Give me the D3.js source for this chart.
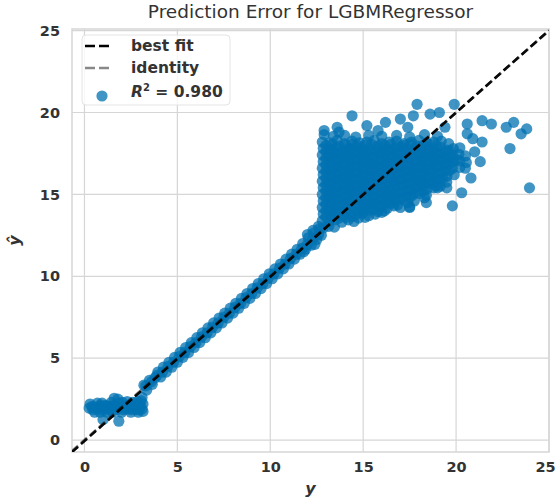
<!DOCTYPE html>
<html><head><meta charset="utf-8">
<script src="https://cdn.jsdelivr.net/npm/d3@7/dist/d3.min.js"></script>
<style>body{margin:0;background:#fff}svg{display:block}</style>
</head><body><svg id="c" width="556" height="503"></svg>
<script>
const titleText = "Prediction Error for LGBMRegressor";
const xTicks = [0, 5, 10, 15, 20, 25];
const yTicks = [0, 5, 10, 15, 20, 25];
const r2Value = "0.980";
const bestFit = {slope: 1.003, intercept: -0.06};

// [y, y_hat] pairs
const lowCluster = [
[0.25,1.95],[0.4,2.05],[0.45,1.85],[0.6,2.0],[0.7,1.9],[0.8,2.1],[0.9,1.85],[1.0,2.0],[1.1,1.9],[1.2,2.1],[1.3,1.85],[1.35,2.05],
[0.3,2.2],[0.55,1.7],[0.95,2.25],[1.2,1.7],[0.7,2.25],[0.85,1.7],[1.5,1.7],[2.0,1.7],[2.5,1.7],[2.9,1.7],
[1.45,2.3],[1.5,1.95],[1.6,2.55],[1.65,2.1],[1.75,1.85],[1.8,2.5],[1.85,2.25],[1.95,2.0],[2.05,2.3],[2.1,1.85],[2.2,2.1],[2.3,2.35],[2.35,1.9],[2.45,2.15],[2.55,1.85],[2.6,2.3],[2.7,2.05],[2.8,1.85],[2.85,2.35],
[2.95,1.85],[3.0,2.1],[3.05,2.4],[3.1,1.9],[3.1,2.6],[3.15,2.2],[3.15,1.75],
[0.5,2.0],[1.05,2.1],[1.55,2.05],[2.25,1.95],[2.75,2.2],
[1.0,1.25],[1.85,1.15]
];
const diagonalBand = [
[3.2,3.35],[3.35,3.05],[3.5,3.65],[3.65,3.4],[3.8,3.8],[3.95,4.15],[4.1,3.85],[4.25,4.45],[4.4,4.15],[4.55,4.75],[4.7,4.45],[4.85,5.05],[5.0,4.75],[5.15,5.35],[5.3,5.05],[5.45,5.65],[5.6,5.35],[5.75,5.95],[5.9,5.65],[6.05,6.25],[6.2,5.95],[6.35,6.55],[6.5,6.25],[6.65,6.85],[6.8,6.55],[6.95,7.15],[7.1,6.85],[7.25,7.45],[7.4,7.15],[7.55,7.75],[7.7,7.45],[7.85,8.05],[8.0,7.75],[8.15,8.35],[8.3,8.05],[8.45,8.65],[8.6,8.35],[8.75,8.95],[8.9,8.65],[9.05,9.25],[9.2,8.95],[9.35,9.55],[9.5,9.25],[9.65,9.85],[9.8,9.55],[9.95,10.15],[10.1,9.85],[10.25,10.45],[10.4,10.15],[10.55,10.75],[10.7,10.45],[10.85,11.05],[11.0,10.75],[11.15,11.35],[11.3,11.05],[11.45,11.65],[11.6,11.35],[11.75,12.0],[11.9,11.65],[12.05,12.35],[12.2,11.9],[12.35,12.65],[12.5,12.25],[12.65,12.9],[12.75,12.5],
[12.0,12.55],[12.4,11.95],[12.6,13.05],[11.8,11.5],[12.3,12.8]
];
const diagonalCore = [
[3.3,3.3],[3.6,3.55],[3.9,3.95],[4.2,4.15],[4.5,4.5],[4.8,4.75],[5.1,5.1],[5.4,5.35],[5.7,5.7],[6.0,5.95],[6.3,6.3],[6.6,6.55],[6.9,6.9],[7.2,7.15],[7.5,7.5],[7.8,7.75],[8.1,8.1],[8.4,8.35],[8.7,8.7],[9.0,8.95],[9.3,9.3],[9.6,9.55],[9.9,9.9],[10.2,10.15],[10.5,10.5],[10.8,10.75],[11.1,11.1],[11.4,11.35],[11.7,11.7],[12.0,11.95],[12.3,12.3],[12.6,12.55]
];
const highCluster = [
[12.85,12.95],[13.15,13.05],[13.45,13.0],
[12.8,13.4],[13.15,13.35],[13.5,13.45],[13.85,13.3],[14.2,13.45],[14.5,13.35],
[12.85,13.8],[13.2,13.75],[13.55,13.85],[13.9,13.7],[14.25,13.8],[14.6,13.75],[14.95,13.85],[15.3,13.7],[15.65,13.8],[16.0,13.9],
[12.8,14.2],[13.15,14.15],[13.5,14.25],[13.85,14.1],[14.2,14.2],[14.55,14.3],[14.9,14.15],[15.25,14.2],[15.6,14.1],[15.95,14.25],[16.3,14.15],[16.65,14.3],[17.0,14.2],[17.5,14.25],
[12.85,14.6],[13.2,14.55],[13.55,14.65],[13.9,14.5],[14.25,14.6],[14.6,14.7],[14.95,14.55],[15.3,14.6],[15.65,14.5],[16.0,14.65],[16.35,14.55],[16.7,14.6],[17.05,14.7],[17.4,14.5],[17.75,14.6],
[12.8,15.0],[13.15,14.95],[13.5,15.05],[13.85,14.9],[14.2,15.0],[14.55,15.1],[14.9,14.95],[15.25,15.0],[15.6,14.9],[15.95,15.05],[16.3,14.95],[16.65,15.0],[17.0,15.1],[17.35,14.9],[17.7,15.0],[18.05,15.05],[18.4,14.95],
[12.85,15.4],[13.2,15.35],[13.55,15.45],[13.9,15.3],[14.25,15.4],[14.6,15.5],[14.95,15.35],[15.3,15.4],[15.65,15.3],[16.0,15.45],[16.35,15.35],[16.7,15.4],[17.05,15.5],[17.4,15.3],[17.75,15.4],[18.1,15.45],[18.45,15.35],[18.8,15.4],[19.15,15.5],
[12.8,15.8],[13.15,15.75],[13.5,15.85],[13.85,15.7],[14.2,15.8],[14.55,15.9],[14.9,15.75],[15.25,15.8],[15.6,15.7],[15.95,15.85],[16.3,15.75],[16.65,15.8],[17.0,15.9],[17.35,15.7],[17.7,15.8],[18.05,15.85],[18.4,15.75],[18.75,15.8],[19.1,15.9],[19.5,15.75],
[12.85,16.2],[13.2,16.15],[13.55,16.25],[13.9,16.1],[14.25,16.2],[14.6,16.3],[14.95,16.15],[15.3,16.2],[15.65,16.1],[16.0,16.25],[16.35,16.15],[16.7,16.2],[17.05,16.3],[17.4,16.1],[17.75,16.2],[18.1,16.25],[18.45,16.15],[18.8,16.2],[19.15,16.3],[19.5,16.1],[19.9,16.2],
[12.8,16.6],[13.15,16.55],[13.5,16.65],[13.85,16.5],[14.2,16.6],[14.55,16.7],[14.9,16.55],[15.25,16.6],[15.6,16.5],[15.95,16.65],[16.3,16.55],[16.65,16.6],[17.0,16.7],[17.35,16.5],[17.7,16.6],[18.05,16.65],[18.4,16.55],[18.75,16.6],[19.1,16.7],[19.45,16.5],[19.8,16.6],[20.2,16.65],
[12.85,17.0],[13.2,16.95],[13.55,17.05],[13.9,16.9],[14.25,17.0],[14.6,17.1],[14.95,16.95],[15.3,17.0],[15.65,16.9],[16.0,17.05],[16.35,16.95],[16.7,17.0],[17.05,17.1],[17.4,16.9],[17.75,17.0],[18.1,17.05],[18.45,16.95],[18.8,17.0],[19.15,17.1],[19.5,16.9],[19.85,17.0],[20.2,17.05],[20.55,16.95],
[12.8,17.4],[13.15,17.35],[13.5,17.45],[13.85,17.3],[14.2,17.4],[14.55,17.5],[14.9,17.35],[15.25,17.4],[15.6,17.3],[15.95,17.45],[16.3,17.35],[16.65,17.4],[17.0,17.5],[17.35,17.3],[17.7,17.4],[18.05,17.45],[18.4,17.35],[18.75,17.4],[19.1,17.5],[19.45,17.3],[19.8,17.4],[20.15,17.45],[20.5,17.35],
[12.85,17.8],[13.2,17.75],[13.55,17.85],[13.9,17.7],[14.25,17.8],[14.6,17.9],[14.95,17.75],[15.3,17.8],[15.65,17.7],[16.0,17.85],[16.35,17.75],[16.7,17.8],[17.05,17.9],[17.4,17.7],[17.75,17.8],[18.1,17.85],[18.45,17.75],[18.8,17.8],[19.15,17.9],[19.5,17.7],[19.85,17.8],[20.2,17.85],
[12.8,18.2],[13.2,18.15],[13.6,18.3],[14.0,18.1],[14.4,18.25],[14.8,18.15],[15.2,18.2],[15.6,18.3],[16.0,18.1],[16.4,18.2],[16.8,18.25],[17.2,18.1],[17.6,18.2],[18.0,18.3],[18.4,18.15],[18.8,18.2],[19.2,18.25],[19.6,18.1],
[12.9,18.65],[13.4,18.55],[14.0,18.6],[14.6,18.5],[15.3,18.6],[16.0,18.55],[16.8,18.6],[17.5,18.5],[18.3,18.65],[19.0,18.55]
];
const highClusterCore = [
[13.0,13.6],[13.35,13.65],[13.7,13.55],[14.05,13.6],[14.4,13.65],[14.75,13.55],[15.1,13.6],
[13.0,14.0],[13.35,14.05],[13.7,13.95],[14.05,14.0],[14.4,14.05],[14.75,13.95],[15.1,14.0],[15.45,14.05],[15.8,13.95],[16.15,14.0],
[13.0,14.4],[13.35,14.45],[13.7,14.35],[14.05,14.4],[14.4,14.45],[14.75,14.35],[15.1,14.4],[15.45,14.45],[15.8,14.35],[16.15,14.4],[16.5,14.45],[16.85,14.35],
[13.0,14.8],[13.35,14.85],[13.7,14.75],[14.05,14.8],[14.4,14.85],[14.75,14.75],[15.1,14.8],[15.45,14.85],[15.8,14.75],[16.15,14.8],[16.5,14.85],[16.85,14.75],[17.2,14.8],[17.55,14.85],
[13.0,15.2],[13.35,15.25],[13.7,15.15],[14.05,15.2],[14.4,15.25],[14.75,15.15],[15.1,15.2],[15.45,15.25],[15.8,15.15],[16.15,15.2],[16.5,15.25],[16.85,15.15],[17.2,15.2],[17.55,15.25],[17.9,15.15],[18.25,15.2],
[13.0,15.6],[13.35,15.65],[13.7,15.55],[14.05,15.6],[14.4,15.65],[14.75,15.55],[15.1,15.6],[15.45,15.65],[15.8,15.55],[16.15,15.6],[16.5,15.65],[16.85,15.55],[17.2,15.6],[17.55,15.65],[17.9,15.55],[18.25,15.6],[18.6,15.65],[18.95,15.55],
[13.0,16.0],[13.35,16.05],[13.7,15.95],[14.05,16.0],[14.4,16.05],[14.75,15.95],[15.1,16.0],[15.45,16.05],[15.8,15.95],[16.15,16.0],[16.5,16.05],[16.85,15.95],[17.2,16.0],[17.55,16.05],[17.9,15.95],[18.25,16.0],[18.6,16.05],[18.95,15.95],[19.3,16.0],
[13.0,16.4],[13.35,16.45],[13.7,16.35],[14.05,16.4],[14.4,16.45],[14.75,16.35],[15.1,16.4],[15.45,16.45],[15.8,16.35],[16.15,16.4],[16.5,16.45],[16.85,16.35],[17.2,16.4],[17.55,16.45],[17.9,16.35],[18.25,16.4],[18.6,16.45],[18.95,16.35],[19.3,16.4],[19.65,16.45],
[13.0,16.8],[13.35,16.85],[13.7,16.75],[14.05,16.8],[14.4,16.85],[14.75,16.75],[15.1,16.8],[15.45,16.85],[15.8,16.75],[16.15,16.8],[16.5,16.85],[16.85,16.75],[17.2,16.8],[17.55,16.85],[17.9,16.75],[18.25,16.8],[18.6,16.85],[18.95,16.75],[19.3,16.8],[19.65,16.85],
[13.0,17.2],[13.35,17.25],[13.7,17.15],[14.05,17.2],[14.4,17.25],[14.75,17.15],[15.1,17.2],[15.45,17.25],[15.8,17.15],[16.15,17.2],[16.5,17.25],[16.85,17.15],[17.2,17.2],[17.55,17.25],[17.9,17.15],[18.25,17.2],[18.6,17.25],[18.95,17.15],[19.3,17.2],[19.65,17.25],[20.0,17.15],
[13.0,17.6],[13.35,17.65],[13.7,17.55],[14.05,17.6],[14.4,17.65],[14.75,17.55],[15.1,17.6],[15.45,17.65],[15.8,17.55],[16.15,17.6],[16.5,17.65],[16.85,17.55],[17.2,17.6],[17.55,17.65],[17.9,17.55],[18.25,17.6],[18.6,17.65],[18.95,17.55],[19.3,17.6],[19.65,17.65],
[13.0,18.0],[13.35,18.05],[13.7,17.95],[14.05,18.0],[14.4,18.05],[14.75,17.95],[15.1,18.0],[15.45,18.05],[15.8,17.95],[16.15,18.0],[16.5,18.05],[16.85,17.95],[17.2,18.0],[17.55,18.05],[17.9,17.95],[18.25,18.0],[18.6,18.05],[18.95,17.95]
];
const outliers = [
[14.4,19.8],[12.9,18.9],[13.6,19.1],[13.7,18.8],[16.2,19.4],[17.0,19.6],[17.7,19.8],[17.9,20.5],[18.6,19.9],[19.1,20.0],[19.4,19.1],[19.9,20.5],[20.6,19.3],[20.6,18.7],[21.4,19.5],[21.9,19.3],[22.7,19.1],[23.1,19.4],[23.8,19.0],[23.5,18.7],[22.9,17.8],[23.95,15.4],[21.4,18.2],[21.3,17.0],[20.8,16.0],[20.5,16.6],[20.3,15.1],[19.8,14.3],[19.5,15.4],[19.0,15.4],[18.3,14.8],[18.4,14.5],[17.5,14.2],[21.0,17.6],[20.9,18.4],[15.2,19.2],[15.8,18.9],[17.4,19.1]
];

const svg = d3.select("#c");
const L = 72, R = 549, T = 29, B = 452;
const x = d3.scaleLinear().domain([-0.67, 25]).range([L, R]);
const y = d3.scaleLinear().domain([-0.73, 25.1]).range([B, T]);
const gridColor = "#d6d6d6";
const textColor = "#333333";
const font = "'DejaVu Sans', sans-serif";

// grid
svg.append("g").selectAll("line").data(xTicks).join("line")
  .attr("x1", d => x(d)).attr("x2", d => x(d)).attr("y1", T).attr("y2", B)
  .attr("stroke", gridColor).attr("stroke-width", 1.2);
svg.append("g").selectAll("line").data(yTicks).join("line")
  .attr("y1", d => y(d)).attr("y2", d => y(d)).attr("x1", L).attr("x2", R)
  .attr("stroke", gridColor).attr("stroke-width", 1.2);

// axes (labels only)
const xAxis = svg.append("g").attr("transform", `translate(0,${B})`)
  .call(d3.axisBottom(x).tickValues(xTicks).tickSize(0).tickPadding(10));
const yAxis = svg.append("g").attr("transform", `translate(${L},0)`)
  .call(d3.axisLeft(y).tickValues(yTicks).tickSize(0).tickPadding(12));
[xAxis, yAxis].forEach(g => {
  g.select(".domain").remove();
  g.selectAll("text").attr("font-family", font).attr("font-weight", "bold")
    .attr("font-size", 14.5).attr("fill", textColor);
});
xAxis.selectAll("text").filter(d => d === 25).attr("dx", -4);

// frame
svg.append("rect").attr("x", L).attr("y", T).attr("width", R - L).attr("height", B - T)
  .attr("fill", "none").attr("stroke", gridColor).attr("stroke-width", 1.5);

// points
const pts = lowCluster.concat(diagonalBand, diagonalCore, highCluster, highClusterCore, outliers);
const clipId = "plotclip";
svg.append("clipPath").attr("id", clipId).append("rect")
  .attr("x", L).attr("y", T).attr("width", R - L).attr("height", B - T);
const plot = svg.append("g").attr("clip-path", `url(#${clipId})`);
plot.append("g").selectAll("circle").data(pts).join("circle")
  .attr("cx", d => x(d[0])).attr("cy", d => y(d[1])).attr("r", 5.6)
  .attr("fill", "#0072B2").attr("fill-opacity", 0.75);

// best fit and identity
const xd = x.domain();
plot.append("line")
  .attr("x1", x(xd[0])).attr("y1", y(bestFit.slope * xd[0] + bestFit.intercept))
  .attr("x2", x(xd[1])).attr("y2", y(bestFit.slope * xd[1] + bestFit.intercept))
  .attr("stroke", "#000").attr("stroke-width", 2.6).attr("stroke-dasharray", "8,4");
plot.append("line")
  .attr("x1", x(xd[0])).attr("y1", y(xd[0])).attr("x2", x(xd[1])).attr("y2", y(xd[1]))
  .attr("stroke", "#111").attr("stroke-opacity", 0.5).attr("stroke-width", 2.6).attr("stroke-dasharray", "8,4");

// title
svg.append("text").attr("x", (L + R) / 2).attr("y", 18).attr("text-anchor", "middle")
  .attr("font-family", font).attr("font-size", 18.5).attr("fill", textColor).text(titleText);

// axis labels
svg.append("text").attr("x", (L + R) / 2).attr("y", 494).attr("text-anchor", "middle")
  .attr("font-family", font).attr("font-size", 16).attr("font-style", "italic")
  .attr("font-weight", "bold").attr("fill", textColor).text("y");
svg.append("text").attr("transform", `translate(20,${(T + B) / 2}) rotate(-90)`)
  .attr("text-anchor", "middle")
  .attr("font-family", font).attr("font-size", 16).attr("font-style", "italic")
  .attr("font-weight", "bold").attr("fill", textColor).text("ŷ");

// legend
const lg = svg.append("g");
lg.append("rect").attr("x", 82).attr("y", 35).attr("width", 148).attr("height", 70).attr("rx", 4)
  .attr("fill", "#fff").attr("fill-opacity", 0.8).attr("stroke", "#e4e4e4").attr("stroke-width", 1);
const legendItems = [
  {label: "best fit", color: "#000", opacity: 1, yy: 46},
  {label: "identity", color: "#111", opacity: 0.5, yy: 68}
];
legendItems.forEach(it => {
  lg.append("line").attr("x1", 85).attr("x2", 113).attr("y1", it.yy).attr("y2", it.yy)
    .attr("stroke", it.color).attr("stroke-opacity", it.opacity).attr("stroke-width", 2.6)
    .attr("stroke-dasharray", "10,4");
  lg.append("text").attr("x", 131).attr("y", it.yy + 5).attr("font-family", font)
    .attr("font-size", 15.5).attr("font-weight", "bold").attr("fill", textColor).text(it.label);
});
lg.append("circle").attr("cx", 102).attr("cy", 96).attr("r", 5.6)
  .attr("fill", "#0072B2").attr("fill-opacity", 0.75);
const rt = lg.append("text").attr("x", 131).attr("y", 97).attr("font-family", font)
  .attr("font-size", 15.5).attr("font-weight", "bold").attr("fill", textColor);
rt.append("tspan").attr("font-style", "italic").text("R");
rt.append("tspan").attr("dy", -6).attr("font-size", 10).text("2");
rt.append("tspan").attr("dy", 6).text(" = " + r2Value);
</script></body></html>
